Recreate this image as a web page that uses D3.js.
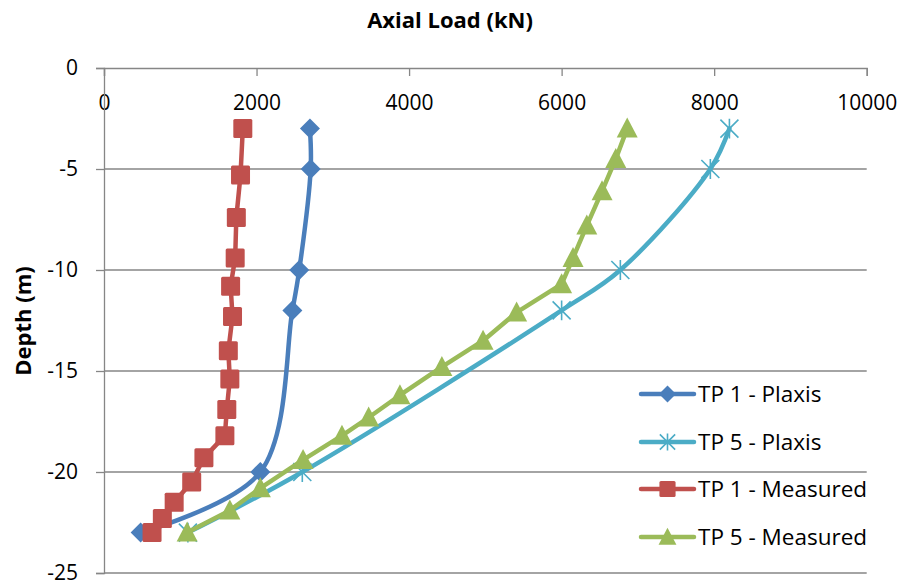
<!DOCTYPE html>
<html>
<head>
<meta charset="utf-8">
<script src="https://cdn.jsdelivr.net/npm/d3@7"></script>
<style>
  html, body { margin: 0; padding: 0; background: #fff; }
  svg text { font-family: "Open Sans", Lato, sans-serif; fill: #000; }
</style>
</head>
<body>
<svg id="chart" width="906" height="585"></svg>
<script>
// Axial load (kN) against depth (m) for test piles TP 1 and TP 5
const xTicks = [0, 2000, 4000, 6000, 8000, 10000];
const yTicks = [0, -5, -10, -15, -20, -25];

const tp1PlaxisLoad  = [2700, 2710, 2560, 2470, 2050, 480];
const tp1PlaxisDepth = [-3, -5, -10, -12, -20, -23];

const tp5PlaxisLoad  = [8200, 7950, 6770, 6000, 2600, 1100];
const tp5PlaxisDepth = [-3, -5, -10, -12, -20, -23];

const tp1MeasLoad  = [1820, 1790, 1735, 1720, 1660, 1685, 1630, 1650, 1610, 1585, 1310, 1150, 920, 765, 630];
const tp1MeasDepth = [-3, -5.3, -7.4, -9.4, -10.8, -12.3, -14.0, -15.4, -16.9, -18.2, -19.3, -20.5, -21.5, -22.3, -23.0];

const tp5MeasLoad  = [6860, 6710, 6530, 6330, 6150, 6000, 5410, 4970, 4430, 3880, 3470, 3120, 2610, 2050, 1650, 1090];
const tp5MeasDepth = [-3, -4.5, -6.1, -7.8, -9.4, -10.7, -12.1, -13.5, -14.8, -16.2, -17.3, -18.2, -19.4, -20.8, -21.9, -23];

const seriesNames = ["TP 1 - Plaxis", "TP 5 - Plaxis", "TP 1 - Measured", "TP 5 - Measured"];

const series = [
  { name: seriesNames[0], load: tp1PlaxisLoad, depth: tp1PlaxisDepth, color: "#4A7EBB", marker: "diamond", smooth: true },
  { name: seriesNames[1], load: tp5PlaxisLoad, depth: tp5PlaxisDepth, color: "#4BACC6", marker: "star", smooth: true },
  { name: seriesNames[2], load: tp1MeasLoad, depth: tp1MeasDepth, color: "#C0504D", marker: "square", smooth: false },
  { name: seriesNames[3], load: tp5MeasLoad, depth: tp5MeasDepth, color: "#9BBB59", marker: "triangle", smooth: false }
];

const svg = d3.select("#chart");
const gridColor = "#868686";
const fontFamily = "'Open Sans', Lato, sans-serif";

const x = d3.scaleLinear().domain([0, 10000]).range([104, 866.7]);
const y = d3.scaleLinear().domain([0, -25]).range([68, 573]);

// horizontal gridlines
svg.append("g")
  .selectAll("line")
  .data(yTicks.slice(1))
  .join("line")
  .attr("x1", x(0)).attr("x2", x(10000))
  .attr("y1", d => y(d)).attr("y2", d => y(d))
  .attr("stroke", gridColor).attr("stroke-width", 1.3);

// x axis along the top (depth 0), ticks pointing down, labels below
const xAxis = svg.append("g")
  .attr("transform", `translate(0,${y(0)})`)
  .call(d3.axisBottom(x).tickValues(xTicks).tickSize(8).tickPadding(19).tickFormat(d3.format("d")));

// y axis
const yAxis = svg.append("g")
  .attr("transform", `translate(${x(0)},0)`)
  .call(d3.axisLeft(y).tickValues(yTicks).tickSize(8).tickPadding(18).tickFormat(d => d === 0 ? "0" : "-" + Math.abs(d)));

[xAxis, yAxis].forEach(g => {
  g.select(".domain").attr("stroke", gridColor).attr("stroke-width", 1.3);
  g.selectAll(".tick line").attr("stroke", gridColor).attr("stroke-width", 1.3);
  g.selectAll(".tick text").attr("font-size", 21).attr("font-family", fontFamily).attr("fill", "#000");
});
yAxis.selectAll(".tick text").attr("x", -26);

// titles
svg.append("text")
  .attr("x", 450).attr("y", 28)
  .attr("text-anchor", "middle")
  .attr("font-size", 22).attr("font-weight", "bold")
  .text("Axial Load (kN)");

svg.append("text")
  .attr("transform", "translate(31,321) rotate(-90)")
  .attr("text-anchor", "middle")
  .attr("font-size", 22).attr("font-weight", "bold")
  .text("Depth (m)");

// marker drawing
function drawMarker(g, type, color, s) {
  if (type === "diamond") {
    g.append("path").attr("d", `M0,${-10*s}L${10*s},0L0,${10*s}L${-10*s},0Z`).attr("fill", color);
  } else if (type === "square") {
    g.append("rect").attr("x", -9.5*s).attr("y", -9.5*s).attr("width", 19*s).attr("height", 19*s)
      .attr("rx", 1.5).attr("fill", color);
  } else if (type === "triangle") {
    g.append("path").attr("d", `M0,${-11*s}L${10.5*s},${9*s}L${-10.5*s},${9*s}Z`).attr("fill", color);
  } else if (type === "star") {
    const r = 9 * s;
    g.append("path")
      .attr("d", `M${-r},${-r}L${r},${r}M${-r},${r}L${r},${-r}M0,${-r*1.1}L0,${r*1.1}`)
      .attr("stroke", color).attr("stroke-width", 1.6).attr("fill", "none");
  }
}

// series lines and markers
series.forEach(sr => {
  const pts = sr.load.map((v, i) => [v, sr.depth[i]]);
  const line = d3.line()
    .x(d => x(d[0])).y(d => y(d[1]))
    .curve(sr.smooth ? d3.curveCatmullRom.alpha(0.5) : d3.curveLinear);
  const g = svg.append("g");
  g.append("path")
    .attr("d", line(pts))
    .attr("fill", "none")
    .attr("stroke", sr.color)
    .attr("stroke-width", 4.5)
    .attr("stroke-linejoin", "round")
    .attr("stroke-linecap", "round");
  pts.forEach(p => {
    const m = g.append("g").attr("transform", `translate(${x(p[0])},${y(p[1])})`);
    drawMarker(m, sr.marker, sr.color, 1);
  });
});

// legend
const legendY = [394, 442, 489, 537];
const legend = svg.append("g");
series.forEach((sr, i) => {
  const g = legend.append("g").attr("transform", `translate(0,${legendY[i]})`);
  g.append("line").attr("x1", 641).attr("x2", 694).attr("y1", 0).attr("y2", 0)
    .attr("stroke", sr.color).attr("stroke-width", 4.5).attr("stroke-linecap", "round");
  const m = g.append("g").attr("transform", "translate(667.5,0)");
  drawMarker(m, sr.marker, sr.color, 0.85);
  g.append("text").attr("x", 698).attr("y", 8).attr("font-size", 22.5).text(sr.name);
});
</script>
</body>
</html>
